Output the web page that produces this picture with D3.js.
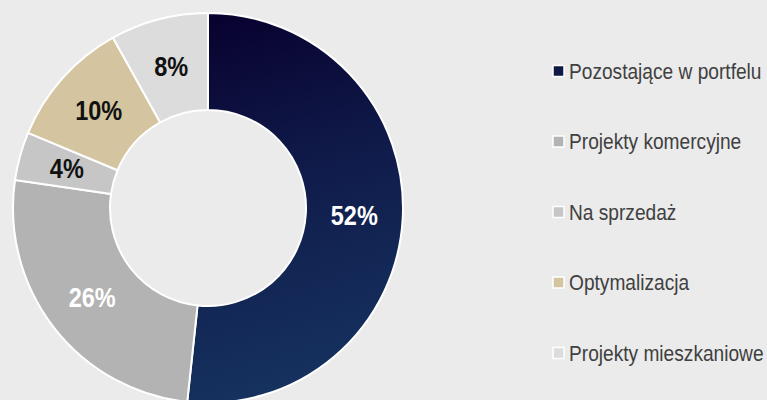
<!DOCTYPE html>
<html>
<head>
<meta charset="utf-8">
<script src="https://cdn.jsdelivr.net/npm/d3@7"></script>
<style>
  html, body { margin: 0; padding: 0; background: #ebebeb; }
  svg { display: block; }
  .sliceLabel { font-family: "Liberation Sans", Arial, sans-serif; font-weight: bold; }
  .legendText { font-family: "Liberation Sans", Arial, sans-serif; fill: #404040; }
</style>
</head>
<body>
<div id="chart"></div>
<script>
// Chart data
var categories = ["Pozostające w portfelu", "Projekty komercyjne", "Na sprzedaż", "Optymalizacja", "Projekty mieszkaniowe"];
var shares = [51.7, 25.6, 4.0, 10.6, 8.1];
var shareLabels = ["52%", "26%", "4%", "10%", "8%"];
var sliceColors = ["url(#navyGradient)", "#b3b3b3", "#c6c6c6", "#d4c5a0", "#dcdcdc"];
var legendColors = ["#0e1a45", "#b3b3b3", "#c6c6c6", "#d4c5a0", "#dcdcdc"];
var labelColors = ["#ffffff", "#ffffff", "#111111", "#111111", "#111111"];

// Set up SVG definitions
var svgWidth = 767;
var svgHeight = 400;

var centerX = 208;
var centerY = 208;
var outerRadius = 195;
var innerRadius = 98;

// Narrow look: horizontal squeeze of the sans font
var narrow = 0.87;

var svg = d3
  .select("#chart")
  .append("svg")
  .attr("width", svgWidth)
  .attr("height", svgHeight);

svg.append("rect")
  .attr("width", svgWidth)
  .attr("height", svgHeight)
  .attr("fill", "#ebebeb");

// Gradient for the big slice (coords are in the chart group's space)
var grad = svg.append("defs")
  .append("linearGradient")
  .attr("id", "navyGradient")
  .attr("gradientUnits", "userSpaceOnUse")
  .attr("x1", 0).attr("y1", -outerRadius)
  .attr("x2", 110).attr("y2", outerRadius);
grad.append("stop").attr("offset", "0%").attr("stop-color", "#08012e");
grad.append("stop").attr("offset", "45%").attr("stop-color", "#101c4b");
grad.append("stop").attr("offset", "100%").attr("stop-color", "#163461");

var chartGroup = svg.append("g")
  .attr("transform", `translate(${centerX}, ${centerY})`);

// Pie layout, clockwise from 12 o'clock
var pie = d3.pie()
  .sort(null)
  .value(d => d);

var arc = d3.arc()
  .innerRadius(innerRadius)
  .outerRadius(outerRadius);

var arcs = pie(shares);

chartGroup.selectAll("path")
  .data(arcs)
  .enter()
  .append("path")
  .attr("d", arc)
  .attr("fill", (d, i) => sliceColors[i])
  .attr("stroke", "#ffffff")
  .attr("stroke-width", 2)
  .attr("stroke-linejoin", "round");

// Slice labels at centroid
chartGroup.selectAll(".sliceLabel")
  .data(arcs)
  .enter()
  .append("text")
  .classed("sliceLabel", true)
  .attr("transform", d => `translate(${arc.centroid(d)[0]}, ${arc.centroid(d)[1]}) scale(${narrow}, 1)`)
  .attr("dy", "0.35em")
  .attr("text-anchor", "middle")
  .attr("font-size", "27px")
  .attr("fill", (d, i) => labelColors[i])
  .text((d, i) => shareLabels[i]);

// Legend
var legendY = d3.scalePoint()
  .domain(categories)
  .range([71, 353]);

var legend = svg.append("g")
  .attr("transform", "translate(553, 0)");

var items = legend.selectAll(".legendItem")
  .data(categories)
  .enter()
  .append("g")
  .classed("legendItem", true)
  .attr("transform", d => `translate(0, ${legendY(d)})`);

items.append("rect")
  .attr("x", 0)
  .attr("y", -5.5)
  .attr("width", 11)
  .attr("height", 11)
  .attr("fill", (d, i) => legendColors[i])
  .attr("stroke", "#ffffff")
  .attr("stroke-width", 1.5);

items.append("text")
  .classed("legendText", true)
  .attr("transform", `translate(16, 0) scale(${narrow}, 1)`)
  .attr("dy", "0.36em")
  .attr("font-size", "22px")
  .text(d => d);
</script>
</body>
</html>
